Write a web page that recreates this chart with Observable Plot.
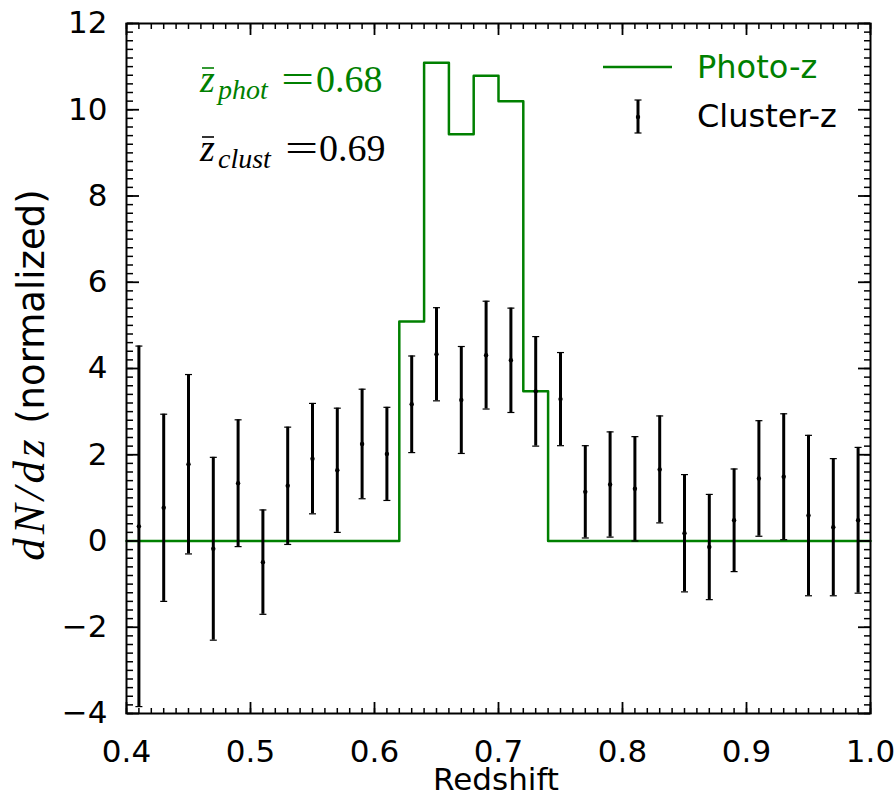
<!DOCTYPE html>
<html><head><meta charset="utf-8">
<script src="https://cdn.jsdelivr.net/npm/d3@7"></script>
<script src="https://cdn.jsdelivr.net/npm/@observablehq/plot@0.6"></script>
<style>body{margin:0;background:#fff}</style>
</head><body><div id="chart"></div>
<script>
// Cluster-z measurements (points with error bars)
const clusterZ = [0.41,0.43,0.45,0.47,0.49,0.51,0.53,0.55,0.57,0.59,0.61,0.63,0.65,0.67,0.69,0.71,0.73,0.75,0.77,0.79,0.81,0.83,0.85,0.87,0.89,0.91,0.93,0.95,0.97,0.99];
const clusterN = [0.34,0.77,1.78,-0.18,1.34,-0.49,1.28,1.91,1.64,2.25,2.02,3.17,4.33,3.27,4.31,4.19,3.47,3.29,1.14,1.31,1.21,1.66,0.18,-0.14,0.48,1.45,1.49,0.59,0.32,0.48];
const clusterErr = [4.18,2.17,2.08,2.12,1.47,1.21,1.36,1.28,1.44,1.27,1.08,1.12,1.08,1.24,1.25,1.21,1.27,1.08,1.07,1.22,1.21,1.24,1.36,1.22,1.19,1.34,1.46,1.86,1.59,1.69];
// Photo-z histogram (step, value holds from edge to next edge)
const photoEdges = [0.40,0.62,0.64,0.66,0.68,0.70,0.72,0.74,1.00];
const photoValues = [0,5.09,11.09,9.43,10.79,10.20,3.47,0,0];
// Axis ticks
const xTicks = [0.4,0.5,0.6,0.7,0.8,0.9,1.0];
const xTickLabels = ["0.4","0.5","0.6","0.7","0.8","0.9","1.0"];
const yTicks = [-4,-2,0,2,4,6,8,10,12];
const yTickLabels = ["\u22124","\u22122","0","2","4","6","8","10","12"];
const xMinor = d3.range(40,101).map(d => d/100);
const yMinor = d3.range(-20,61).map(d => d/5);

const cluster = clusterZ.map((z,i) => ({z, n: clusterN[i], lo: clusterN[i]-clusterErr[i], hi: clusterN[i]+clusterErr[i]}));
const photo = photoEdges.map((z,i) => ({z, v: photoValues[i]}));
const GREEN = "#008000";
const cap = {draw(ctx){ ctx.moveTo(-3.5,0); ctx.lineTo(3.5,0); }};
const blank = () => "";
// inward ticks: a tick shape pointing toward the frame interior, placed on the opposite frame edge
const inX = (ticks, side, size, sw) => Plot.axisX(ticks, {anchor: side === "bottom" ? "top" : "bottom", frameAnchor: side, tickSize: size, tickFormat: blank, label: null, strokeWidth: sw});
const inY = (ticks, side, size, sw) => Plot.axisY(ticks, {anchor: side === "left" ? "right" : "left", frameAnchor: side, tickSize: size, tickFormat: blank, label: null, strokeWidth: sw});

const plot = Plot.plot({
  width: 896, height: 798,
  marginLeft: 126, marginRight: 26, marginTop: 23, marginBottom: 85,
  style: {fontFamily: "'DejaVu Sans', sans-serif", fontSize: "31px", color: "black", background: "white"},
  x: {domain: [0.4, 1.0]},
  y: {domain: [-4, 12]},
  marks: [
    Plot.line(photo, {x: "z", y: "v", curve: "step-after", stroke: GREEN, strokeWidth: 2.5}),
    Plot.ruleX(cluster, {x: "z", y1: "lo", y2: "hi", stroke: "black", strokeWidth: 3}),
    Plot.dot(cluster, {x: "z", y: "lo", symbol: cap, stroke: "black", strokeWidth: 1.2}),
    Plot.dot(cluster, {x: "z", y: "hi", symbol: cap, stroke: "black", strokeWidth: 1.2}),
    Plot.dot(cluster, {x: "z", y: "n", r: 2.2, fill: "black", stroke: null}),
    inX(xMinor, "bottom", 6, 1.5), inX(xTicks, "bottom", 12, 1.8),
    inX(xMinor, "top", 6, 1.5), inX(xTicks, "top", 12, 1.8),
    inY(yMinor, "left", 6, 1.5), inY(yTicks, "left", 12, 1.8),
    inY(yMinor, "right", 6, 1.5), inY(yTicks, "right", 12, 1.8),
    // tick labels
    Plot.axisX(xTicks, {anchor: "bottom", tickSize: 0, tickPadding: 26, tickFormat: (d,i) => xTickLabels[i], label: null, fill: "black"}),
    Plot.axisY(yTicks, {anchor: "left", tickSize: 0, tickPadding: 19, tickFormat: (d,i) => yTickLabels[i], label: null, fill: "black"}),
    Plot.frame({stroke: "black", strokeWidth: 2})
  ]
});
document.getElementById("chart").appendChild(plot);

const svg = d3.select(plot);
const txt = (x, y, s, opts = {}) => {
  const t = svg.append("text").attr("x", x).attr("y", y).attr("text-anchor", opts.anchor || "start")
    .attr("font-family", opts.family || "'DejaVu Sans', sans-serif").attr("font-size", opts.size || 32)
    .attr("fill", opts.fill || "black");
  if (opts.italic) t.attr("font-style", "italic");
  if (opts.transform) t.attr("transform", opts.transform);
  return t.text(s);
};
// axis titles
txt(496, 790, "Redshift", {anchor: "middle", size: 31});
const yl = svg.append("text").attr("transform", "translate(44,375) rotate(-90)").attr("text-anchor", "middle")
  .attr("font-family", "'DejaVu Sans', sans-serif").attr("font-size", 37).attr("fill", "black");
yl.append("tspan").attr("font-family", "'Liberation Serif', serif").attr("font-style", "italic").attr("font-size", 45).attr("letter-spacing", 4).text("dN/dz");
yl.append("tspan").text(" (normalized)");

// mean redshift annotations
const SERIF = "'Liberation Serif', serif";
function annot(y, sub, val, color, eqX, valX) {
  txt(200, y, "z", {family: SERIF, italic: true, size: 38, fill: color});
  svg.append("line").attr("x1", 202).attr("x2", 214).attr("y1", y - 24).attr("y2", y - 24).attr("stroke", color).attr("stroke-width", 1.6);
  txt(218, y + 7, sub, {family: SERIF, italic: true, size: 28, fill: color});
  txt(0, 0, "=", {family: SERIF, size: 38, fill: color, transform: `translate(${eqX},${y}) scale(1.55,1)`});
  txt(valX, y, val, {family: SERIF, size: 38, fill: color});
}
annot(92, "phot", "0.68", GREEN, 281, 316);
annot(161, "clust", "0.69", "black", 285, 319);

// legend
svg.append("line").attr("x1", 603).attr("x2", 672).attr("y1", 67).attr("y2", 67).attr("stroke", GREEN).attr("stroke-width", 2.5);
txt(697, 78, "Photo-z", {fill: GREEN, size: 32});
svg.append("line").attr("x1", 638).attr("x2", 638).attr("y1", 100).attr("y2", 133).attr("stroke", "black").attr("stroke-width", 3);
svg.append("line").attr("x1", 634.5).attr("x2", 641.5).attr("y1", 100).attr("y2", 100).attr("stroke", "black").attr("stroke-width", 1.2);
svg.append("line").attr("x1", 634.5).attr("x2", 641.5).attr("y1", 133).attr("y2", 133).attr("stroke", "black").attr("stroke-width", 1.2);
svg.append("circle").attr("cx", 638).attr("cy", 117).attr("r", 2.2).attr("fill", "black");
txt(697, 127, "Cluster-z", {size: 32});
</script>
</body></html>
